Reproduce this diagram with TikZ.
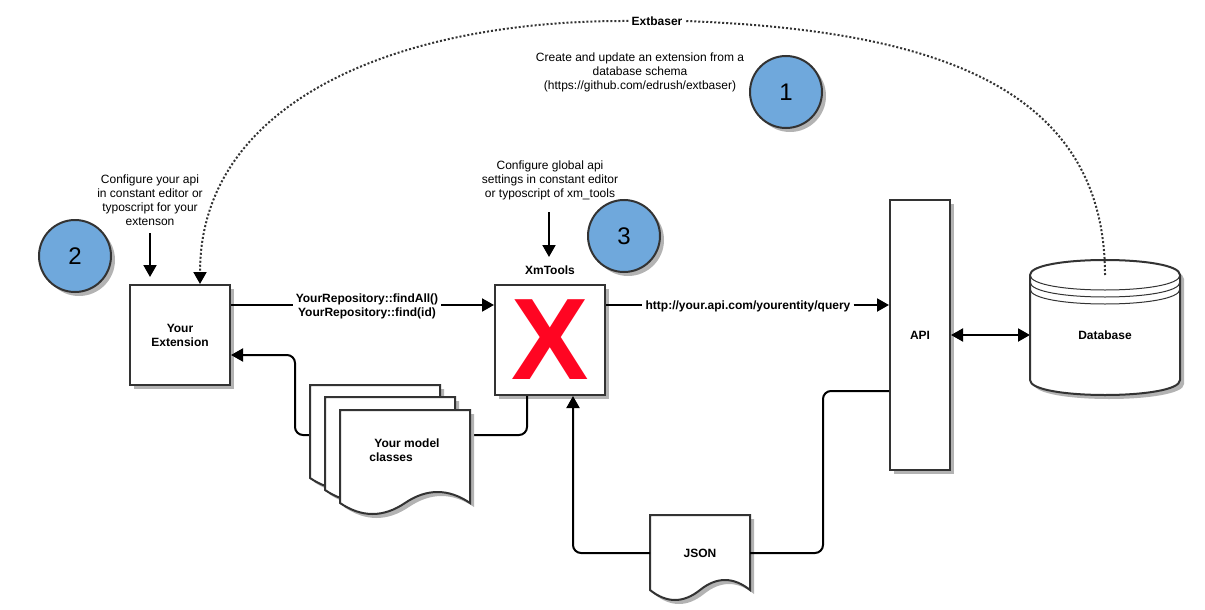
\documentclass[tikz,border=0pt]{standalone}
\usepackage{fontspec}
\setmainfont{Liberation Sans}
\usetikzlibrary{arrows.meta, shadows}
\definecolor{edgegray}{HTML}{333333}
\definecolor{shadegray}{HTML}{B3B3B3}
\definecolor{stepblue}{HTML}{6FA8DC}
\definecolor{logored}{HTML}{FF0522}
\tikzset{
  shade box/.style={drop shadow={shadow xshift=4pt,shadow yshift=-4pt,opacity=1,fill=shadegray}},
  block/.style={draw=edgegray,line width=2pt,fill=white,shade box,inner sep=0pt,font=\fontsize{12}{14}\selectfont\bfseries,align=center},
  stepdot/.style={draw=edgegray,line width=2pt,fill=stepblue,shade box,shape=circle,inner sep=0pt,minimum size=72pt,font=\fontsize{24}{24}\selectfont},
  note/.style={font=\fontsize{12}{14}\selectfont,align=center,inner sep=2pt},
  tag/.style={font=\fontsize{12}{14}\selectfont\bfseries,align=center,inner sep=3pt},
  conn/.style={line width=2pt,rounded corners=8pt},
  tip/.style={-{Triangle[length=12pt,width=13pt,black]}},
  dotline/.style={line width=2pt,draw=edgegray,dash pattern=on 2pt off 2pt}
}
\newcommand{\docshape}[5]{% left, top, width, side height, wave
  \draw[draw=edgegray,line width=2pt,fill=white,shade box] (#1,#2) -- ++(#3,0) -- ++(0,#4)
  .. controls +(-#3/6,-4*#5/3) and +(#3/6,-4*#5/3) .. ++(-#3/2,0)
  .. controls +(-#3/6,4*#5/3) and +(#3/6,4*#5/3) .. ++(-#3/2,0) -- cycle;
}
\begin{document}
\begin{tikzpicture}[x=1pt,y=-1pt]
  \useasboundingbox (0,0) rectangle (1205,610);
  \node[block,minimum size=100pt] (ext) at (180,335) {Your\\Extension};
  \node[block,minimum size=110pt,text=logored,font=\fontsize{116}{116}\selectfont\bfseries] (xm) at (550,340) {X};
  \node[block,minimum width=60pt,minimum height=270pt] (api) at (920,335) {API};
  \node[tag] (xmtag) at (550,270) {XmTools};
  \node[tag] (repotag) at (367,306) {YourRepository::findAll()\\YourRepository::find(id)};
  \node[tag] (urltag) at (748,306) {http://your.api.com/yourentity/query};
  \node[tag] (extbaser) at (657,21) {Extbaser};
  \node[note] (cfgext) at (150,200) {Configure your api\\in constant editor or\\typoscript for your\\extenson};
  \node[note] (cfgxm) at (550,180) {Configure global api\\settings in constant editor\\or typoscript of xm\_tools};
  \node[note] (cfgbaser) at (640,72) {Create and update an extension from a\\database schema\\(https://github.com/edrush/extbaser)};
  \node[stepdot] (one) at (786,92) {1};
  \node[stepdot] (two) at (75,256) {2};
  \node[stepdot] (three) at (624,236) {3};
  \coordinate (extfrom) at (150,233);
  \coordinate (extin) at (150,277);
  \coordinate (xmfrom) at (549,212);
  \coordinate (xmin) at (549,257);
  \coordinate (extout) at ([yshift=30pt]ext.east);
  \coordinate (urlout) at ([yshift=35pt]xm.east);

  \draw[conn,tip] ([xshift=-23pt]xm.south) |- (295,435) |- ([yshift=-20pt]ext.east);
  \docshape{310}{385}{130}{93}{11}
  \docshape{325}{397}{130}{93}{11}
  \docshape{340}{410}{130}{93}{11}
  \node[font=\fontsize{12}{14}\selectfont\bfseries,align=left,inner sep=0pt] (models) at (404.5,450) {\hspace{5pt}Your model\\classes};
  \docshape{650}{515}{100}{75}{10}
  \node[tag] (json) at (700,553) {JSON};
  \path (json) ++(-50,0) coordinate (jsonl) ++(100,0) coordinate (jsonr);

  \draw[conn] (extout) -- (extout -| repotag.west);
  \draw[conn,tip] (extout -| repotag.east) -- (extout -| xm.west);
  \draw[conn] (urlout) -- (urlout -| urltag.west);
  \draw[conn,tip] (urlout -| urltag.east) -- (urlout -| api.west);
  \draw[conn,{Triangle[length=12pt,width=13pt]}-{Triangle[length=12pt,width=13pt]}] (api.east) -- (1030,335) coordinate (dbin);
  \draw[conn,tip] (jsonl) -| ([xshift=23pt]xm.south);
  \draw[conn] (jsonr) -- (823,553) |- ([yshift=-56pt]api.west);
  \draw[conn,tip] (extfrom) -- (extin);
  \draw[conn,tip] (xmfrom) -- (xmin);

  \draw[draw=edgegray,line width=2pt,fill=white,shade box] (1030,275) .. controls (1030,255) and (1180,255) .. (1180,275)
  -- (1180,380) .. controls (1180,400) and (1030,400) .. (1030,380) -- cycle;
  \foreach \yy in {275,282,289}
    \draw[draw=edgegray,line width=1pt] (1030,\yy) .. controls (1030,\yy+20) and (1180,\yy+20) .. (1180,\yy);
  \node[tag] (db) at (1105,335) {Database};

  \draw[dotline] (1105,275) .. controls (1105,80) and (920,30) .. (extbaser.east);
  \draw[dotline,tip] (extbaser.west) .. controls (400,20) and (200,100) .. ([xshift=20pt]ext.north);
\end{tikzpicture}
\end{document}
